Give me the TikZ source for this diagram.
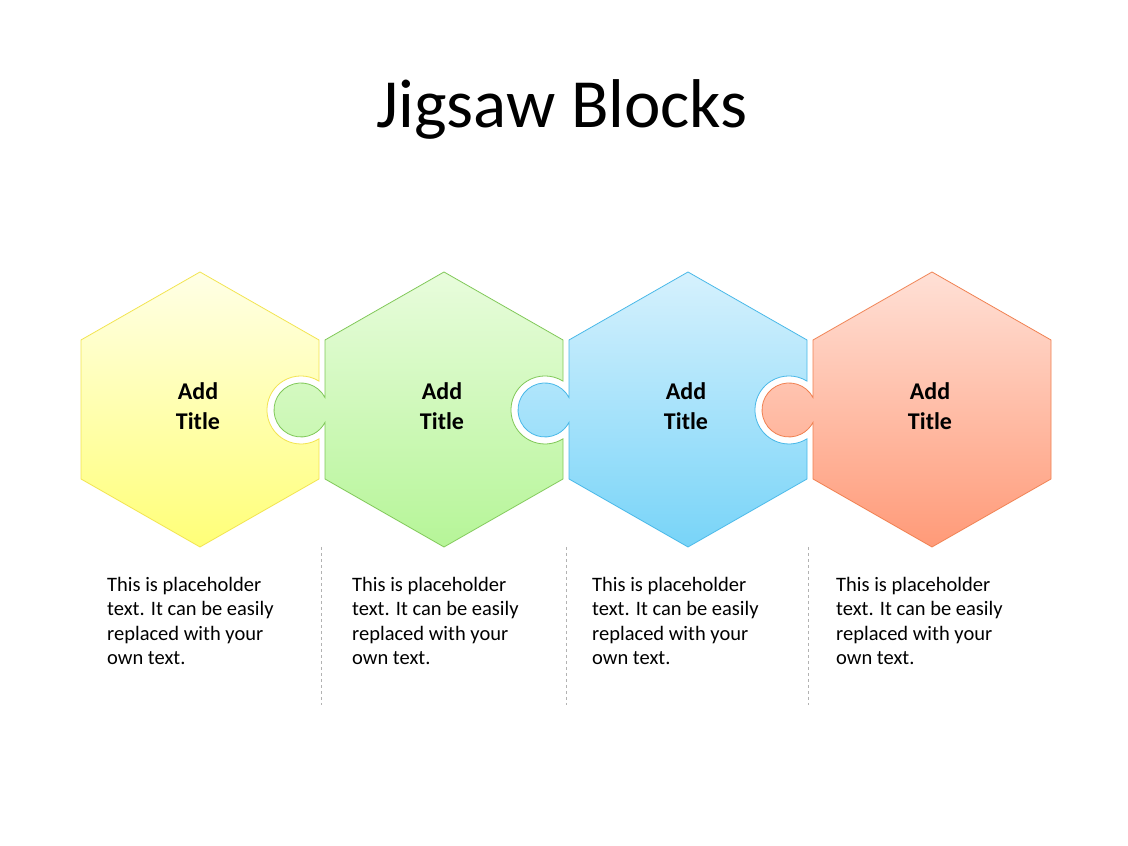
\documentclass[tikz,border=0pt]{standalone}
\usepackage{fontspec}
\setmainfont{Carlito}
\begin{document}
\begin{tikzpicture}[x=1pt,y=1pt,
  lbl/.style={font=\bfseries\fontsize{24}{30}\selectfont,align=center},
  body/.style={font=\fontsize{20.5}{24.5}\selectfont,align=left,anchor=north west,inner sep=0},
  sep/.style={draw=gray!60,dashed,line width=0.8pt}]
\useasboundingbox (0,0) rectangle (1128,846);
\definecolor{yT}{HTML}{FFFFE6}\definecolor{yB}{HTML}{FFFF78}\definecolor{yD}{HTML}{F2E450}
\definecolor{gT}{HTML}{E8FCDC}\definecolor{gB}{HTML}{B6F598}\definecolor{gD}{HTML}{80C858}
\definecolor{bT}{HTML}{D6F1FD}\definecolor{bB}{HTML}{78D4F8}\definecolor{bD}{HTML}{48B8E8}
\definecolor{oT}{HTML}{FFE0D6}\definecolor{oB}{HTML}{FF9A78}\definecolor{oD}{HTML}{F08050}
\node (title) at (562,737) {\fontsize{69}{72}\selectfont Jigsaw Blocks};
\foreach \cx/\T/\B/\D/\k/\n/\i in {200/yT/yB/yD/0/1/1,444/gT/gB/gD/1/1/2,688/bT/bB/bD/1/1/3,932/oT/oB/oD/1/0/4}{
  \path[draw=\D,line width=0.8pt,top color=\T,bottom color=\B]
   (\cx,574) -- (\cx-119,506)
   \ifnum\k=1 -- (\cx-119,448.4) arc[start angle=27.3,end angle=332.7,radius=27] \fi
   -- (\cx-119,367) -- (\cx,299) -- (\cx+119,367)
   \ifnum\n=1 -- (\cx+119,407.2) arc[start angle=-58,end angle=-302,radius=34] \fi
   -- (\cx+119,506) -- cycle;
  \node[lbl] (t\i) at (\cx-2,440) {Add\\Title};
}
\foreach \x/\i in {107/1,352/2,592/3,836/4}
  \node[body] (b\i) at (\x,269) {This is placeholder\\text. It can be easily\\replaced with your\\own text.};
\foreach \x/\i in {321/1,566/2,808/3}{
  \coordinate (s\i a) at (\x,299); \coordinate (s\i b) at (\x,141);
  \draw[sep] (s\i a) -- (s\i b);}
\end{tikzpicture}
\end{document}
